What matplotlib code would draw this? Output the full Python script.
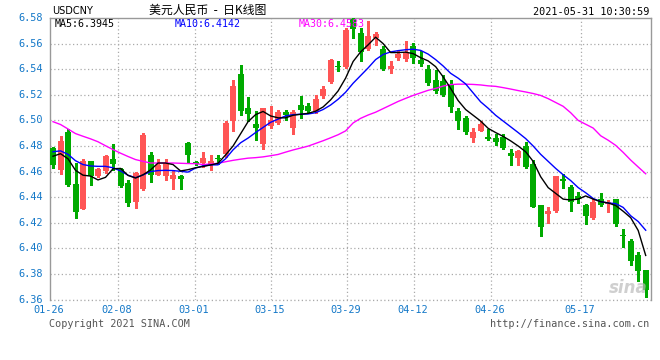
import matplotlib
matplotlib.use("Agg")
import matplotlib.pyplot as plt
import numpy as np

# ---------------- data ----------------
opens = [6.4784, 6.4615, 6.4906, 6.4506, 6.4306, 6.4685, 6.4568, 6.4602, 6.4701, 6.4620,
         6.4514, 6.4360, 6.4467, 6.4732, 6.4576, 6.4563, 6.4545, 6.4568, 6.4826, 6.4678,
         6.4670, 6.4660, 6.4709, 6.4734, 6.4994, 6.5366, 6.5093, 6.4968, 6.4817, 6.4955,
         6.4976, 6.5064, 6.4937, 6.5124, 6.5111, 6.5072, 6.5192, 6.5298, 6.5423, 6.5415,
         6.5790, 6.5683, 6.5558, 6.5644, 6.5561, 6.5402, 6.5488, 6.5480, 6.5579, 6.5470,
         6.5402, 6.5317, 6.5311, 6.5285, 6.5077, 6.5020, 6.4864, 6.4921, 6.4870, 6.4859,
         6.4870, 6.4743, 6.4709, 6.4797, 6.4662, 6.4337, 6.4272, 6.4293, 6.4545, 6.4480,
         6.4410, 6.4337, 6.4238, 6.4384, 6.4350, 6.4384, 6.4108, 6.4059, 6.3947, 6.3830]
highs = [6.4790, 6.4875, 6.4932, 6.4667, 6.4698, 6.4685, 6.4630, 6.4730, 6.4818, 6.4628,
         6.4537, 6.4600, 6.4901, 6.4750, 6.4698, 6.4698, 6.4610, 6.4575, 6.4830, 6.4680,
         6.4756, 6.4730, 6.4730, 6.4994, 6.5319, 6.5436, 6.5181, 6.5072, 6.5100, 6.5111,
         6.5085, 6.5085, 6.5085, 6.5189, 6.5137, 6.5202, 6.5272, 6.5478, 6.5462, 6.5720,
         6.5800, 6.5722, 6.5779, 6.5691, 6.5579, 6.5462, 6.5540, 6.5623, 6.5605, 6.5540,
         6.5436, 6.5397, 6.5358, 6.5319, 6.5098, 6.5033, 6.4942, 6.4994, 6.4929, 6.4890,
         6.4896, 6.4779, 6.4770, 6.4831, 6.4688, 6.4340, 6.4324, 6.4565, 6.4584, 6.4493,
         6.4441, 6.4350, 6.4389, 6.4433, 6.4376, 6.4389, 6.4155, 6.4075, 6.3973, 6.3830]
lows = [6.4630, 6.4584, 6.4490, 6.4236, 6.4306, 6.4493, 6.4560, 6.4590, 6.4610, 6.4480,
        6.4330, 6.4313, 6.4460, 6.4516, 6.4570, 6.4537, 6.4464, 6.4464, 6.4672, 6.4650,
        6.4638, 6.4613, 6.4660, 6.4713, 6.4921, 6.5046, 6.4999, 6.4843, 6.4773, 6.4942,
        6.4968, 6.5007, 6.4890, 6.5020, 6.5059, 6.5059, 6.5176, 6.5293, 6.5389, 6.5410,
        6.5645, 6.5462, 6.5553, 6.5592, 6.5397, 6.5371, 6.5475, 6.5462, 6.5449, 6.5423,
        6.5280, 6.5215, 6.5189, 6.5064, 6.4929, 6.4895, 6.4833, 6.4916, 6.4843, 6.4807,
        6.4779, 6.4654, 6.4654, 6.4630, 6.4320, 6.4098, 6.4200, 6.4285, 6.4472, 6.4293,
        6.4355, 6.4194, 6.4233, 6.4329, 6.4285, 6.4173, 6.4012, 6.3869, 6.3744, 6.3622]
closes = [6.4652, 6.4841, 6.4493, 6.4282, 6.4685, 6.4568, 6.4623, 6.4724, 6.4657, 6.4485,
          6.4353, 6.4589, 6.4883, 6.4576, 6.4654, 6.4667, 6.4576, 6.4545, 6.4732, 6.4656,
          6.4709, 6.4683, 6.4701, 6.4976, 6.5265, 6.5072, 6.5051, 6.4937, 6.5093, 6.5005,
          6.5067, 6.5041, 6.5067, 6.5085, 6.5077, 6.5171, 6.5249, 6.5470, 6.5418, 6.5705,
          6.5715, 6.5535, 6.5662, 6.5675, 6.5400, 6.5428, 6.5519, 6.5527, 6.5488, 6.5444,
          6.5293, 6.5228, 6.5202, 6.5103, 6.4994, 6.4908, 6.4908, 6.4968, 6.4851, 6.4830,
          6.4787, 6.4719, 6.4758, 6.4636, 6.4324, 6.4168, 6.4293, 6.4563, 6.4524, 6.4363,
          6.4384, 6.4254, 6.4363, 6.4342, 6.4363, 6.4189, 6.4098, 6.3900, 6.3822, 6.3674]

ma5 = [6.4720, 6.4740, 6.4700, 6.4610, 6.4572, 6.4565, 6.4535, 6.4555, 6.4622, 6.4625,
       6.4570, 6.4550, 6.4575, 6.4613, 6.4667, 6.4667, 6.4655, 6.4605, 6.4615, 6.4630,
       6.4640, 6.4652, 6.4665, 6.4730, 6.4800, 6.4895, 6.4990, 6.5045, 6.5070, 6.5035,
       6.5020, 6.5020, 6.5040, 6.5048, 6.5055, 6.5072, 6.5105, 6.5160, 6.5230, 6.5330,
       6.5460, 6.5535, 6.5590, 6.5650, 6.5600, 6.5530, 6.5530, 6.5533, 6.5522, 6.5490,
       6.5465, 6.5420, 6.5340, 6.5250, 6.5155, 6.5085, 6.5040, 6.4995, 6.4938, 6.4905,
       6.4875, 6.4840, 6.4800, 6.4755, 6.4680, 6.4560, 6.4475, 6.4430, 6.4385, 6.4378,
       6.4385, 6.4410, 6.4385, 6.4365, 6.4355, 6.4335, 6.4290, 6.4240, 6.4140, 6.3945]
ma10 = [6.4755, 6.4762, 6.4735, 6.4685, 6.4655, 6.4644, 6.4641, 6.4641, 6.4630, 6.4605,
        6.4572, 6.4552, 6.4574, 6.4600, 6.4608, 6.4610, 6.4608, 6.4602, 6.4596, 6.4628,
        6.4645, 6.4652, 6.4653, 6.4700, 6.4770, 6.4825, 6.4862, 6.4905, 6.4945, 6.4985,
        6.5010, 6.5035, 6.5045, 6.5048, 6.5050, 6.5060, 6.5085, 6.5120, 6.5165, 6.5220,
        6.5290, 6.5350, 6.5410, 6.5475, 6.5515, 6.5535, 6.5545, 6.5552, 6.5556, 6.5547,
        6.5518, 6.5475, 6.5425, 6.5368, 6.5330, 6.5285, 6.5215, 6.5145, 6.5095, 6.5040,
        6.4995, 6.4950, 6.4905, 6.4858, 6.4800, 6.4735, 6.4680, 6.4625, 6.4575, 6.4530,
        6.4475, 6.4435, 6.4390, 6.4365, 6.4355, 6.4350, 6.4320, 6.4255, 6.4210, 6.4142]
ma30 = [6.4990, 6.4968, 6.4933, 6.4897, 6.4876, 6.4856, 6.4833, 6.4802, 6.4772, 6.4744,
        6.4718, 6.4694, 6.4680, 6.4667, 6.4667, 6.4667, 6.4667, 6.4665, 6.4663, 6.4662,
        6.4655, 6.4659, 6.4665, 6.4677, 6.4688, 6.4697, 6.4705, 6.4709, 6.4715, 6.4724,
        6.4734, 6.4752, 6.4769, 6.4784, 6.4799, 6.4820, 6.4841, 6.4864, 6.4888, 6.4918,
        6.4980, 6.5016, 6.5042, 6.5064, 6.5092, 6.5120, 6.5148, 6.5172, 6.5195, 6.5215,
        6.5235, 6.5250, 6.5268, 6.5280, 6.5283, 6.5283, 6.5281, 6.5277, 6.5270, 6.5266,
        6.5256, 6.5245, 6.5233, 6.5222, 6.5210, 6.5195, 6.5170, 6.5140, 6.5110, 6.5060,
        6.5000, 6.4970, 6.4940, 6.4880, 6.4845, 6.4805, 6.4750, 6.4690, 6.4636, 6.4583]

date_labels = ["01-26", "02-08", "03-01", "03-15", "03-29", "04-12", "04-26", "05-17"]
date_pos = [-0.4, 8.73, 18.89, 29.06, 39.19, 48.12, 58.34, 70.38]
y_ticks = [6.36, 6.38, 6.40, 6.42, 6.44, 6.46, 6.48, 6.50, 6.52, 6.54, 6.56, 6.58]

ma_labels = ["MA5:6.3945", "MA10:6.4142", "MA30:6.4583"]

# ---------------- figure ----------------
W, H = 660, 360
fig = plt.figure(figsize=(W / 100, H / 100), dpi=100)
L, R, T, B = 50, 650.5, 18, 299.6
ax = fig.add_axes([L / W, 1 - B / H, (R - L) / W, (B - T) / H])

RED = "#ff5555"
GREEN = "#00aa00"
BLUE_TXT = "#1478c8"
GRID = "#aaaaaa"
MONO = "DejaVu Sans Mono"

n = len(closes)
x = np.arange(n)
o = np.array(opens); c = np.array(closes); hi = np.array(highs); lo = np.array(lows)
up = c >= o
cols = np.where(up, RED, GREEN)

ax.set_xlim(-0.4, 79.64)
ax.set_ylim(y_ticks[0], y_ticks[-1])

# grid
for yv in y_ticks[:-1]:
    ax.axhline(yv, color=GRID, lw=0.9, ls=(0, (1, 2)), zorder=0)
for xp in date_pos[1:]:
    ax.axvline(xp, color=GRID, lw=0.9, ls=(0, (1, 2)), zorder=0)

# wicks and bodies
ax.vlines(x, lo, hi, colors=cols, lw=1.0, zorder=3, antialiased=False)
bottoms = np.minimum(o, c)
heights = np.maximum(np.abs(c - o), 0.0006)
ax.bar(x, heights, bottom=bottoms, width=0.8, color=cols, edgecolor=cols, lw=0,
       zorder=4, antialiased=False)

# moving averages
ax.plot(x, ma30, color="#ff00ff", lw=1.0, zorder=5)
ax.plot(x, ma10, color="#0000ff", lw=1.0, zorder=5)
ax.plot(x, ma5, color="#000000", lw=1.0, zorder=5)

# spines
for s in ["left", "top", "right"]:
    ax.spines[s].set_color("#999999")
    ax.spines[s].set_linewidth(1.0)
ax.spines["bottom"].set_visible(False)
ax.axhline(y_ticks[0], color=GRID, lw=0.9, ls=(0, (1, 2)), zorder=0, clip_on=False)

ax.set_xticks([]); ax.set_yticks([])

# y labels
for yv in y_ticks:
    ax.text(-0.012, yv, f"{yv:.2f}", transform=ax.get_yaxis_transform(),
            ha="right", va="center", fontsize=7.4, family=MONO, color=BLUE_TXT)
# x labels
for lab, xp in zip(date_labels, date_pos):
    ax.text(xp - 0.2, -0.018, lab, transform=ax.get_xaxis_transform(),
            ha="center", va="top", fontsize=7.4, family=MONO, color=BLUE_TXT,
            clip_on=False)

# MA legend (inside top)
ma_cols = ["#000000", "#0000ff", "#ff00ff"]
ma_x = [55, 175, 299]
for lab, col, px in zip(ma_labels, ma_cols, ma_x):
    fig.text(px / W, 1 - 24 / H, lab, ha="left", va="center", fontsize=7.2,
             family=MONO, color=col, zorder=1)

# header
fig.text(52 / W, 1 - 11 / H, "USDCNY", ha="left", va="center", fontsize=7,
         family=["Liberation Sans Narrow", "DejaVu Sans"], color="#000000")
fig.text(208 / W, 1 - 10 / H, "美元人民币  -  日K线图", ha="center", va="center",
         fontsize=8.6, family=["Noto Sans CJK SC", "DejaVu Sans"], color="#000000")
fig.text(649 / W, 1 - 12 / H, "2021-05-31 10:30:59", ha="right", va="center",
         fontsize=7.3, family=MONO, color="#000000")

# footer
fig.text(49 / W, 1 - 324 / H, "Copyright 2021 SINA.COM", ha="left", va="center",
         fontsize=7.3, family=MONO, color="#555555")
fig.text(649 / W, 1 - 324 / H, "http://finance.sina.com.cn", ha="right", va="center",
         fontsize=7.3, family=MONO, color="#555555")

# watermark
fig.text(628 / W, 1 - 288 / H, "sina", ha="center", va="center", fontsize=12,
         fontweight="bold", style="italic", color="#bbbbbb", alpha=0.7)

fig.savefig("out.png", dpi=100)
